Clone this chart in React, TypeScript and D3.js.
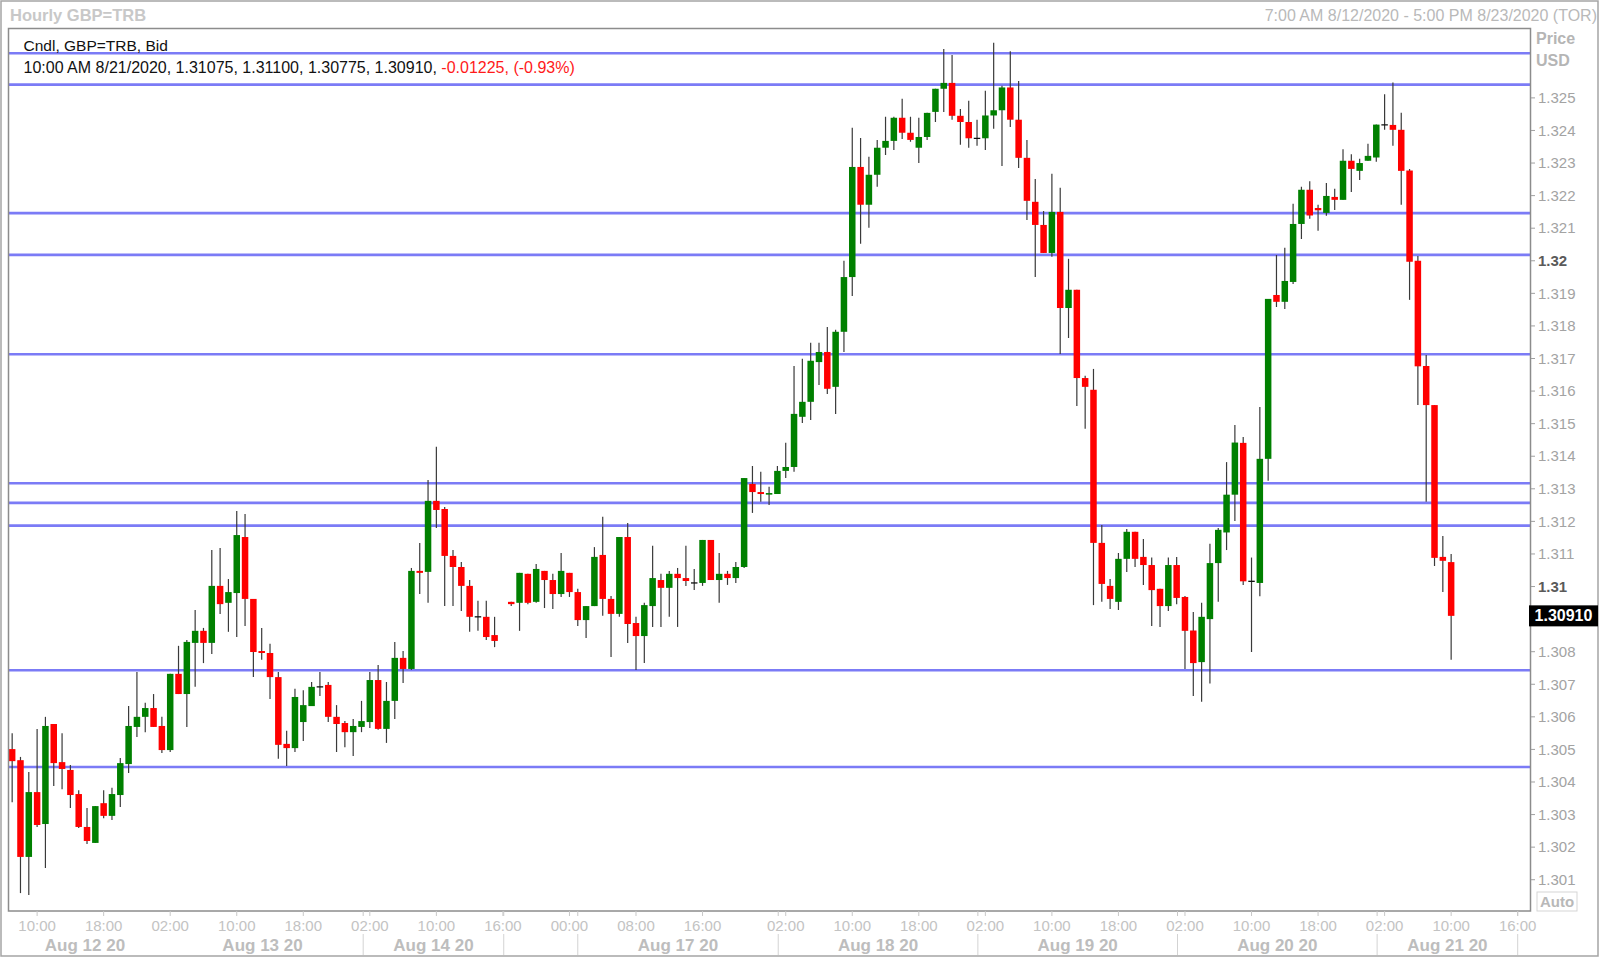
import React from 'react';
import * as d3 from 'd3';

// hourly GBP candles, one slot per bar (slot 59 is the empty weekend slot)
const opens = [
  1.30501, 1.30467, 1.30170, 1.30369, 1.30271, 1.30578, 1.30461, 1.30437, 1.30363, 1.30262,
  1.30213, 1.30335, 1.30296, 1.30360, 1.30455, 1.30569, 1.30600, 1.30627, 1.30572, 1.30498,
  1.30732, 1.30670, 1.30827, 1.30864, 1.30827, 1.31002, 1.30950, 1.30980, 1.31152, 1.30962,
  1.30802, 1.30796, 1.30722, 1.30517, 1.30504, 1.30584, 1.30633, 1.30692, 1.30698, 1.30600,
  1.30581, 1.30553, 1.30569, 1.30584, 1.30713, 1.30563, 1.30649, 1.30781, 1.30747, 1.31048,
  1.31045, 1.31263, 1.31238, 1.31094, 1.31060, 1.31002, 1.30907, 1.30907, 1.30851, null,
  1.30953, 1.30950, 1.31039, 1.30953, 1.31048, 1.31020, 1.30977, 1.31042, 1.30983, 1.30897,
  1.30940, 1.31097, 1.30962, 1.30916, 1.31152, 1.30888, 1.30848, 1.30940, 1.31020, 1.30996,
  1.31039, 1.31026, 1.31011, 1.31011, 1.31143, 1.31020, 1.31039, 1.31026, 1.31060, 1.31315,
  1.31290, 1.31284, 1.31284, 1.31355, 1.31367, 1.31521, 1.31567, 1.31689, 1.31720, 1.31613,
  1.31782, 1.31950, 1.32288, 1.32172, 1.32264, 1.32347, 1.32368, 1.32439, 1.32393, 1.32347,
  1.32380, 1.32457, 1.32528, 1.32546, 1.32445, 1.32426, 1.32376, 1.32376, 1.32446, 1.32462,
  1.32532, 1.32433, 1.32316, 1.32181, 1.32110, 1.32024, 1.32150, 1.31855, 1.31911, 1.31640,
  1.31604, 1.31134, 1.31002, 1.30953, 1.31085, 1.31168, 1.31091, 1.31066, 1.30993, 1.30940,
  1.31066, 1.30968, 1.30865, 1.30768, 1.30900, 1.31072, 1.31166, 1.31282, 1.31441, 1.31016,
  1.31011, 1.31392, 1.31895, 1.31874, 1.31935, 1.32113, 1.32218, 1.32162, 1.32147, 1.32196,
  1.32187, 1.32307, 1.32276, 1.32307, 1.32317, 1.32417, 1.32417, 1.32402, 1.32277, 1.32000,
  1.31677, 1.31557, 1.31091, 1.31075,
];
const highs = [
  1.30550, 1.30477, 1.30431, 1.30563, 1.30600, 1.30578, 1.30550, 1.30452, 1.30375, 1.30320,
  1.30326, 1.30375, 1.30382, 1.30474, 1.30633, 1.30738, 1.30643, 1.30670, 1.30600, 1.30732,
  1.30818, 1.30836, 1.30928, 1.30873, 1.31112, 1.31118, 1.31023, 1.31232, 1.31223, 1.30962,
  1.30873, 1.30824, 1.30738, 1.30557, 1.30686, 1.30682, 1.30707, 1.30738, 1.30707, 1.30636,
  1.30587, 1.30593, 1.30649, 1.30738, 1.30759, 1.30707, 1.30830, 1.30802, 1.31057, 1.31134,
  1.31327, 1.31429, 1.31244, 1.31112, 1.31075, 1.31020, 1.30956, 1.30956, 1.30907, null,
  1.30953, 1.31042, 1.31039, 1.31069, 1.31048, 1.31039, 1.31103, 1.31042, 1.30993, 1.30940,
  1.31121, 1.31214, 1.30971, 1.31152, 1.31195, 1.30907, 1.30950, 1.31125, 1.31039, 1.31048,
  1.31057, 1.31125, 1.31054, 1.31143, 1.31143, 1.31103, 1.31048, 1.31075, 1.31333, 1.31370,
  1.31352, 1.31306, 1.31370, 1.31441, 1.31677, 1.31699, 1.31748, 1.31748, 1.31797, 1.31788,
  1.32000, 1.32408, 1.32377, 1.32319, 1.32371, 1.32442, 1.32442, 1.32497, 1.32442, 1.32439,
  1.32454, 1.32528, 1.32650, 1.32632, 1.32466, 1.32491, 1.32433, 1.32522, 1.32669, 1.32537,
  1.32643, 1.32552, 1.32371, 1.32251, 1.32153, 1.32267, 1.32224, 1.32006, 1.31911, 1.31647,
  1.31668, 1.31189, 1.31023, 1.31103, 1.31177, 1.31168, 1.31146, 1.31089, 1.30993, 1.31089,
  1.31091, 1.30971, 1.30922, 1.30950, 1.31131, 1.31180, 1.31382, 1.31496, 1.31459, 1.31089,
  1.31551, 1.31883, 1.32018, 1.32040, 1.32175, 1.32227, 1.32244, 1.32172, 1.32239, 1.32221,
  1.32342, 1.32327, 1.32313, 1.32359, 1.32418, 1.32511, 1.32547, 1.32454, 1.32282, 1.32015,
  1.31711, 1.31557, 1.31155, 1.31100,
];
const lows = [
  1.30338, 1.30059, 1.30053, 1.30262, 1.30136, 1.30388, 1.30378, 1.30320, 1.30259, 1.30210,
  1.30213, 1.30289, 1.30283, 1.30323, 1.30428, 1.30538, 1.30553, 1.30569, 1.30489, 1.30492,
  1.30670, 1.30569, 1.30692, 1.30765, 1.30793, 1.30916, 1.30861, 1.30845, 1.30879, 1.30722,
  1.30775, 1.30655, 1.30471, 1.30449, 1.30492, 1.30526, 1.30633, 1.30664, 1.30584, 1.30492,
  1.30507, 1.30480, 1.30553, 1.30566, 1.30560, 1.30520, 1.30593, 1.30704, 1.30744, 1.30977,
  1.30950, 1.31180, 1.30940, 1.30940, 1.30925, 1.30861, 1.30864, 1.30836, 1.30814, null,
  1.30940, 1.30864, 1.30946, 1.30950, 1.30934, 1.30931, 1.30968, 1.30968, 1.30879, 1.30842,
  1.30940, 1.30910, 1.30784, 1.30907, 1.30827, 1.30744, 1.30765, 1.30876, 1.30876, 1.30907,
  1.30876, 1.31002, 1.30989, 1.31002, 1.31020, 1.30950, 1.31005, 1.31011, 1.31057, 1.31226,
  1.31260, 1.31250, 1.31284, 1.31333, 1.31352, 1.31502, 1.31511, 1.31619, 1.31591, 1.31530,
  1.31720, 1.31892, 1.32052, 1.32101, 1.32227, 1.32325, 1.32340, 1.32374, 1.32365, 1.32300,
  1.32371, 1.32426, 1.32457, 1.32433, 1.32356, 1.32347, 1.32353, 1.32340, 1.32405, 1.32291,
  1.32411, 1.32285, 1.32125, 1.31950, 1.32024, 1.32012, 1.31714, 1.31763, 1.31554, 1.31484,
  1.30943, 1.30953, 1.30931, 1.30928, 1.31045, 1.31060, 1.31005, 1.30879, 1.30876, 1.30925,
  1.30946, 1.30747, 1.30664, 1.30646, 1.30702, 1.30953, 1.31112, 1.31201, 1.31005, 1.30799,
  1.30970, 1.31325, 1.31858, 1.31852, 1.31929, 1.32067, 1.32129, 1.32092, 1.32138, 1.32156,
  1.32187, 1.32211, 1.32248, 1.32307, 1.32304, 1.32402, 1.32353, 1.32172, 1.31880, 1.31557,
  1.31260, 1.31063, 1.30983, 1.30775,
];
const closes = [
  1.30464, 1.30170, 1.30369, 1.30268, 1.30572, 1.30458, 1.30440, 1.30360, 1.30262, 1.30219,
  1.30326, 1.30296, 1.30363, 1.30458, 1.30572, 1.30600, 1.30627, 1.30569, 1.30498, 1.30732,
  1.30670, 1.30830, 1.30864, 1.30827, 1.31002, 1.30946, 1.30983, 1.31158, 1.30962, 1.30799,
  1.30796, 1.30722, 1.30514, 1.30504, 1.30661, 1.30636, 1.30692, 1.30692, 1.30600, 1.30578,
  1.30553, 1.30572, 1.30587, 1.30713, 1.30563, 1.30649, 1.30781, 1.30747, 1.31048, 1.31042,
  1.31263, 1.31235, 1.31094, 1.31060, 1.31002, 1.30907, 1.30907, 1.30845, 1.30833, null,
  1.30946, 1.31042, 1.30950, 1.31054, 1.31020, 1.30977, 1.31048, 1.30983, 1.30897, 1.30940,
  1.31091, 1.30962, 1.30916, 1.31152, 1.30885, 1.30848, 1.30943, 1.31026, 1.30996, 1.31039,
  1.31026, 1.31017, 1.31011, 1.31143, 1.31020, 1.31039, 1.31026, 1.31060, 1.31333, 1.31290,
  1.31284, 1.31287, 1.31355, 1.31367, 1.31530, 1.31567, 1.31693, 1.31720, 1.31607, 1.31782,
  1.31950, 1.32288, 1.32172, 1.32264, 1.32347, 1.32368, 1.32439, 1.32393, 1.32371, 1.32380,
  1.32454, 1.32528, 1.32546, 1.32445, 1.32426, 1.32376, 1.32376, 1.32446, 1.32462, 1.32532,
  1.32433, 1.32316, 1.32184, 1.32110, 1.32024, 1.32150, 1.31855, 1.31911, 1.31640, 1.31613,
  1.31134, 1.31008, 1.30962, 1.31085, 1.31168, 1.31085, 1.31066, 1.30989, 1.30940, 1.31066,
  1.30965, 1.30864, 1.30765, 1.30907, 1.31072, 1.31174, 1.31282, 1.31442, 1.31016, 1.31016,
  1.31392, 1.31883, 1.31874, 1.31938, 1.32113, 1.32218, 1.32139, 1.32155, 1.32199, 1.32187,
  1.32307, 1.32282, 1.32300, 1.32322, 1.32418, 1.32417, 1.32402, 1.32276, 1.31997, 1.31676,
  1.31557, 1.31088, 1.31079, 1.30910,
];

// horizontal support / resistance lines drawn on the chart
const levelLines = [1.32637, 1.32541, 1.32146, 1.32018, 1.31713, 1.31317, 1.31257, 1.31187, 1.30743, 1.30446];

const yTicks = [
  1.301, 1.302, 1.303, 1.304, 1.305, 1.306, 1.307, 1.308, 1.309, 1.31, 1.311, 1.312, 1.313,
  1.314, 1.315, 1.316, 1.317, 1.318, 1.319, 1.32, 1.321, 1.322, 1.323, 1.324, 1.325,
];
const boldTicks = [1.31, 1.32];

const xTickSlots = [3, 11, 19, 27, 35, 43, 51, 59, 67, 75, 83, 93, 101, 109, 117, 125, 133, 141, 149, 157, 165, 173, 181];
const xTickLabels = [
  '10:00', '18:00', '02:00', '10:00', '18:00', '02:00', '10:00', '16:00', '00:00', '08:00', '16:00',
  '02:00', '10:00', '18:00', '02:00', '10:00', '18:00', '02:00', '10:00', '18:00', '02:00', '10:00', '16:00',
];

// day sections along the bottom (slot units)
const dayLabels = ['Aug 12 20', 'Aug 13 20', 'Aug 14 20', '', 'Aug 17 20', 'Aug 18 20', 'Aug 19 20', 'Aug 20 20', 'Aug 21 20'];
const dayStarts = [-0.5, 18, 42.2, 59.1, 68, 92.1, 116.1, 140.1, 164.1];
const dayEnds = [18, 42.2, 59.1, 68, 92.1, 116.1, 140.1, 164.1, 181];
const daySeparators = [42.2, 59.1, 68, 92.1, 116.1, 140.1, 164.1, 181];

const lastPrice = 1.3091;

const FONT = '"Liberation Sans", Arial, sans-serif';
const W = 1600;
const H = 958;
const plot = { left: 8, right: 1531, top: 28.5, bottom: 911 };

const GREEN = '#008000';
const RED = '#ff0000';
const LEVEL = '#7b7bf6';

const App: React.FC = () => {
  const x = d3.scaleLinear().domain([-0.5, 182.6]).range([plot.left, plot.right]);
  const y = d3.scaleLinear().domain([1.30004, 1.32713]).range([plot.bottom, plot.top]);
  const bodyW = 6.5;

  const candles = opens
    .map((o, i) => ({ i, o, h: highs[i], l: lows[i], c: closes[i] }))
    .filter(d => d.o !== null);

  // the last-price box hides the axis label it sits on
  const visibleTicks = yTicks.filter(v => Math.abs(y(v) - y(lastPrice)) > 14);

  return (
    <svg
      width={W}
      height={H}
      style={{ position: 'absolute', left: 0, top: 0, background: '#fff' }}
      fontFamily={FONT}
    >
      <rect x={0} y={0} width={W} height={H} fill="#fff" />
      <rect x={1} y={1} width={W - 3} height={H - 3} fill="none" stroke="#a5a5a5" strokeWidth={1.5} />

      {/* title row */}
      <text x={10} y={21} fontSize={16.5} fontWeight="bold" fill="#c8c8c8">Hourly GBP=TRB</text>
      <text x={1597} y={21} fontSize={16} fill="#b9b9b9" textAnchor="end">
        7:00 AM 8/12/2020 - 5:00 PM 8/23/2020 (TOR)
      </text>

      <defs>
        <clipPath id="plot-clip">
          <rect x={plot.left} y={plot.top} width={plot.right - plot.left} height={plot.bottom - plot.top} />
        </clipPath>
      </defs>

      <g clipPath="url(#plot-clip)">
        {levelLines.map(v => (
          <line key={v} x1={plot.left} x2={plot.right} y1={y(v)} y2={y(v)} stroke={LEVEL} strokeWidth={2.7} />
        ))}

        {candles.map(d => {
          const cx = x(d.i);
          const up = d.c > d.o;
          const doji = d.c === d.o;
          const top = y(Math.max(d.o!, d.c!));
          const bh = Math.max(1.6, Math.abs(y(d.o!) - y(d.c!)));
          return (
            <g key={d.i}>
              <line x1={cx} x2={cx} y1={y(d.h!)} y2={y(d.l!)} stroke="#3a3a3a" strokeWidth={1.2} />
              {doji ? (
                <line x1={cx - bodyW / 2} x2={cx + bodyW / 2} y1={top} y2={top} stroke="#111" strokeWidth={1.3} />
              ) : (
                <rect x={cx - bodyW / 2} y={top} width={bodyW} height={bh} fill={up ? GREEN : RED} />
              )}
            </g>
          );
        })}
      </g>

      {/* legend */}
      <rect x={22} y={37} width={142} height={14} fill="#fff" />
      <text x={23.5} y={51} fontSize={15.5} fill="#111">Cndl, GBP=TRB, Bid</text>
      <text x={23.5} y={73} fontSize={16} fill="#111">
        10:00 AM 8/21/2020, 1.31075, 1.31100, 1.30775, 1.30910,{' '}
        <tspan fill="#ff1a1a">-0.01225, (-0.93%)</tspan>
      </text>

      <rect
        x={plot.left + 0.5}
        y={plot.top}
        width={plot.right - plot.left - 1}
        height={plot.bottom - plot.top}
        fill="none"
        stroke="#8c8c8c"
        strokeWidth={1.5}
      />

      {/* price axis */}
      <text x={1536} y={44} fontSize={16} fontWeight="bold" fill="#b5b5b5">Price</text>
      <text x={1536} y={66} fontSize={16} fontWeight="bold" fill="#b5b5b5">USD</text>
      {yTicks.map(v => (
        <line key={`yt${v}`} x1={plot.right} x2={plot.right + 4} y1={y(v)} y2={y(v)} stroke="#a0a0a0" />
      ))}
      {visibleTicks.map(v => {
        const bold = boldTicks.includes(v);
        return (
          <text
            key={v}
            x={1538}
            y={y(v)}
            dy="0.35em"
            fontSize={15}
            fontWeight={bold ? 'bold' : 'normal'}
            fill={bold ? '#5a5a5a' : '#a3a3a3'}
          >
            {d3.format('.3~f')(v)}
          </text>
        );
      })}
      <rect x={1529} y={y(lastPrice) - 10.5} width={69} height={21} fill="#000" />
      <text x={1563.5} y={y(lastPrice)} dy="0.35em" fontSize={16} fontWeight="bold" fill="#fff" textAnchor="middle">
        {d3.format('.5f')(lastPrice)}
      </text>

      <rect x={1537} y={892} width={40} height={19} fill="#fff" stroke="#d5d5d5" />
      <text x={1557} y={907} fontSize={15} fontWeight="bold" fill="#b8b8b8" textAnchor="middle">Auto</text>

      {/* time axis */}
      {xTickSlots.map((s, k) => (
        <g key={`t${s}`}>
          <line x1={x(s)} x2={x(s)} y1={plot.bottom} y2={plot.bottom + 5} stroke="#c8c8c8" />
          <text x={x(s)} y={931} fontSize={15} fill="#c3c3c3" textAnchor="middle">{xTickLabels[k]}</text>
        </g>
      ))}
      {daySeparators.map(s => (
        <g key={`s${s}`}>
          <line x1={x(s)} x2={x(s)} y1={plot.bottom} y2={plot.bottom + 5} stroke="#c8c8c8" />
          <line x1={x(s)} x2={x(s)} y1={934} y2={955} stroke="#d3d3d3" />
        </g>
      ))}
      {dayLabels.map((lab, k) =>
        lab ? (
          <text
            key={lab}
            x={(x(dayStarts[k]) + x(dayEnds[k])) / 2}
            y={951}
            fontSize={17}
            fontWeight="bold"
            fill="#bdbdbd"
            textAnchor="middle"
          >
            {lab}
          </text>
        ) : null
      )}
    </svg>
  );
};

export default App;
